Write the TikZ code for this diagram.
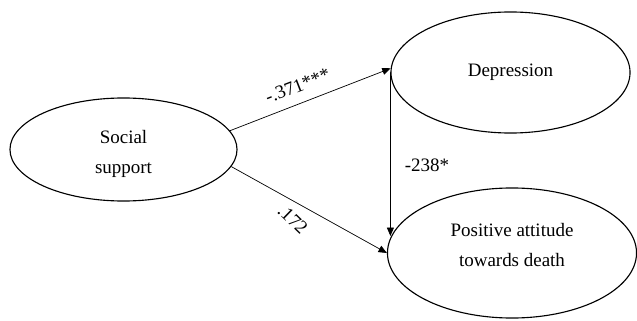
\documentclass[tikz,border=0pt]{standalone}
\usepackage{fontspec}
\setmainfont{Liberation Serif}
\usepackage{tikz}
\usetikzlibrary{arrows.meta,shapes.geometric}
\tikzset{
  every picture/.style={line join=round, line cap=round, >=Stealth},
  latent/.style={ellipse, draw, line width=0.8pt, inner sep=0pt, align=center,
    font=\fontsize{13.5}{21.5}\selectfont},
  effect/.style={-{Triangle[length=6pt,width=5pt]}, line width=0.5pt},
  coef/.style={font=\fontsize{13.5}{16}\selectfont, inner sep=2pt},
}

\begin{document}
\begin{tikzpicture}[x=0.025cm,y=-0.025cm]
\useasboundingbox (0,0) rectangle (637,321);
\node[latent,minimum width=5.675cm,minimum height=2.575cm,text height=34pt,text depth=0pt] (soc) at (123.5,149.5) {Social\\support};
\node[latent,minimum width=5.975cm,minimum height=3.025cm] (dep) at (510.5,72.5) {Depression};
\node[latent,minimum width=6.225cm,minimum height=3.250cm,text depth=11.4pt] (pos) at (512.0,253.0) {Positive attitude\\towards death};
\draw[effect] (soc.10) -- (dep.178) node[coef,pos=0.46,sloped,above=5.5pt] {-.371***};
\draw[effect] (soc.-9) -- (pos.west) node[coef,pos=0.46,sloped,below=5pt,rotate=-15] {.172};
\draw[effect] (dep.west) -- (dep.west |- pos.172) node[coef,pos=0.57,right=8pt] {-238*};
\end{tikzpicture}
\end{document}
